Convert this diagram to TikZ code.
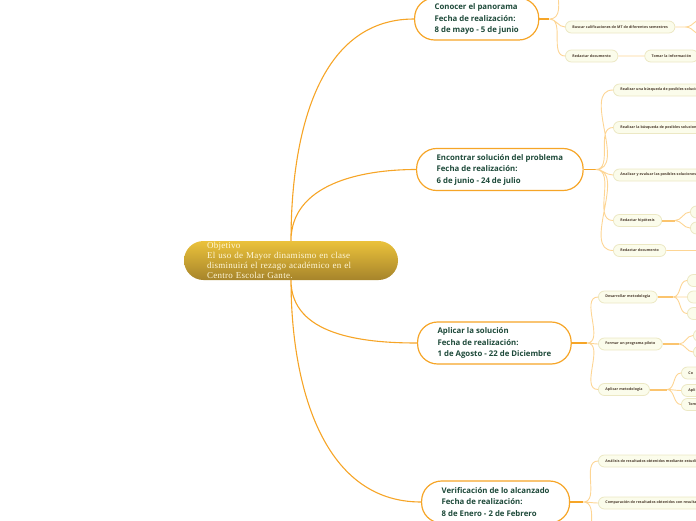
\documentclass[tikz,border=0pt]{standalone}
\usepackage{fontspec}
\setmainfont{Liberation Serif}
\newfontfamily\mapasans{Open Sans}
\usetikzlibrary{positioning}
\definecolor{ramanaranja}{HTML}{F6A527}
\definecolor{subnaranja}{HTML}{FDD594}
\definecolor{gruesonaranja}{HTML}{FBC46E}
\definecolor{tareafondo}{HTML}{FBFCEB}
\definecolor{tareaborde}{HTML}{ECE8C4}
\definecolor{tareatexto}{HTML}{4A3A2C}
\definecolor{fasetexto}{HTML}{1E4A3A}
\definecolor{oroarriba}{HTML}{EBC23B}
\definecolor{oroabajo}{HTML}{A6842B}
\definecolor{objtexto}{HTML}{FFF7D8}
\begin{document}
\begin{tikzpicture}[x=1pt,y=1pt,
    objetivo/.style={rounded corners=19.5pt,top color=oroarriba,bottom color=oroabajo,minimum width=214pt,minimum height=39pt,text width=168pt,inner ysep=0pt,align=left,text=objtexto,font=\addfontfeatures{LetterSpace=3}\fontsize{9}{9.8}\selectfont},
    fase/.style={draw=ramanaranja,line width=1.2pt,fill=white,rounded corners=20pt,minimum height=42pt,inner xsep=20pt,align=left,anchor=west,text=fasetexto,font=\mapasans\bfseries\fontsize{7.8}{11.5}\selectfont},
    tarea/.style={draw=tareaborde,line width=0.8pt,fill=tareafondo,rounded corners=6pt,minimum height=12pt,inner xsep=7pt,inner ysep=0pt,anchor=west,text=tareatexto,font=\mapasans\bfseries\addfontfeatures{LetterSpace=1.5}\fontsize{3.6}{4}\selectfont},
    hoja/.style={tarea,minimum width=45pt,text width=31pt,align=left},
    rama/.style={draw=ramanaranja,line width=1.1pt},
    sub/.style={draw=subnaranja,line width=0.9pt},
    grueso/.style={draw=gruesonaranja,line width=2pt},
]

    \clip (0,0) rectangle (696,-520);

    \node[objetivo] (obj) at (291,-260.5) {Objetivo\\El uso de Mayor dinamismo en clase\\disminuirá el rezago académico en el\\Centro Escolar Gante.};

    \node[fase] (conocer) at (414,-19) {Conocer el panorama\\Fecha de realización:\\8 de mayo - 5 de junio};
    \node[fase] (encontrar) at (416,-169.5) {Encontrar solución del problema\\Fecha de realización:\\6 de junio - 24 de julio};
    \node[fase] (aplicar) at (417,-343) {Aplicar la solución\\Fecha de realización:\\1 de Agosto - 22 de Diciembre};
    \node[fase] (verificar) at (421,-502) {Verificación de lo alcanzado\\Fecha de realización:\\8 de Enero - 2 de Febrero};

    \draw[rama]
        (obj.north) to[out=90,in=180] (conocer.west)
        (obj.north) to[out=90,in=180] (encontrar.west)
        (obj.south) to[out=-90,in=180] (aplicar.west)
        (obj.south) to[out=-90,in=180] (verificar.west)
    ;

    \node[tarea] (buscar) at (565,-27) {Buscar calificaciones de MT de diferentes semestres};
    \node[tarea] (redactar1) at (565,-56) {Redactar documento};
    \node[tarea,right=26pt of redactar1] (tomar) {Tomar la información};
    \coordinate[right=10pt of conocer] (jconocer);
    \coordinate (arriba) at (565,40);
    \coordinate[right=10pt of buscar] (jbuscar);
    \coordinate (buscara) at (705,-17);
    \coordinate (buscarb) at (705,-37);

    \draw[rama] (conocer) -- (jconocer);
    \draw[sub]
        (jconocer) to[out=0,in=180] (arriba)
        (jconocer) to[out=0,in=180] (buscar.west)
        (jconocer) to[out=0,in=180] (redactar1.west)
        (redactar1) -- (tomar)
        (buscar) -- (jbuscar)
        (jbuscar) to[out=0,in=180] (buscara)
        (jbuscar) to[out=0,in=180] (buscarb)
    ;

    \node[tarea] (busqueda1) at (613,-90) {Realizar una búsqueda de posibles soluciones};
    \node[tarea] (busqueda2) at (613,-127.5) {Realizar la búsqueda de posibles soluciones};
    \node[tarea] (analizar) at (613,-175) {Analizar y evaluar las posibles soluciones.};
    \node[tarea] (hipotesis) at (613,-220.5) {Redactar hipótesis};
    \node[tarea] (redactar2) at (613,-250.5) {Redactar documento};
    \node[hoja] (hipa) at (690,-212) {};
    \node[hoja] (hipb) at (690,-228) {};
    \coordinate[right=12pt of encontrar] (jencontrar);
    \coordinate (jhipotesis) at (675,-220.5);
    \coordinate (documento) at (705,-250.5);

    \draw[rama] (encontrar) -- (jencontrar);
    \draw[sub]
        (jencontrar) to[out=0,in=180] (busqueda1.west)
        (jencontrar) to[out=0,in=180] (busqueda2.west)
        (jencontrar) to[out=0,in=180] (analizar.west)
        (jencontrar) to[out=0,in=180] (hipotesis.west)
        (jencontrar) to[out=0,in=180] (redactar2.west)
        (redactar2) -- (documento)
        (jhipotesis) to[out=0,in=180] (hipa.west)
        (jhipotesis) to[out=0,in=180] (hipb.west)
    ;
    \draw[grueso] (hipotesis) -- (jhipotesis);

    \node[tarea] (metodologia) at (598,-297) {Desarrollar metodología};
    \node[tarea] (piloto) at (598,-344) {Formar un programa piloto};
    \node[tarea] (aplicarm) at (598,-389.5) {Aplicar metodología};
    \node[hoja] (meta) at (687,-280.5) {};
    \node[hoja] (metb) at (687,-297) {};
    \node[hoja] (metc) at (687,-313.5) {};
    \node[hoja] (pila) at (693,-335.5) {};
    \node[hoja] (pilb) at (693,-352) {};
    \node[hoja] (apla) at (681,-373) {Co};
    \node[hoja] (aplb) at (681,-390.5) {Apli};
    \node[hoja] (aplc) at (681,-404.5) {Tom};
    \coordinate[right=15pt of aplicar] (japlicar);
    \coordinate (jmetodologia) at (673,-297);
    \coordinate (jpiloto) at (679,-344);
    \coordinate (japlicarm) at (667,-389.5);

    \draw[rama] (aplicar) -- (japlicar);
    \draw[sub]
        (japlicar) to[out=0,in=180] (metodologia.west)
        (japlicar) to[out=0,in=180] (piloto.west)
        (japlicar) to[out=0,in=180] (aplicarm.west)
        (jmetodologia) to[out=0,in=180] (meta.west)
        (jmetodologia) -- (metb.west)
        (jmetodologia) to[out=0,in=180] (metc.west)
        (jpiloto) to[out=0,in=180] (pila.west)
        (jpiloto) to[out=0,in=180] (pilb.west)
        (japlicarm) to[out=0,in=180] (apla.west)
        (japlicarm) to[out=0,in=180] (aplb.west)
        (japlicarm) to[out=0,in=180] (aplc.west)
    ;
    \draw[grueso]
        (metodologia) -- (jmetodologia)
        (piloto) -- (jpiloto)
        (aplicarm) -- (japlicarm)
    ;

    \node[tarea] (analisis) at (598,-461) {Análisis de resultados obtenidos mediante estudios};
    \node[tarea] (comparacion) at (598,-503) {Comparación de resultados obtenidos con resultados};
    \coordinate[right=13pt of verificar] (jverificar);
    \coordinate (abajo) at (600,-545);

    \draw[rama] (verificar) -- (jverificar);
    \draw[sub]
        (jverificar) to[out=0,in=180] (analisis.west)
        (jverificar) to[out=0,in=180] (comparacion.west)
        (jverificar) to[out=0,in=180] (abajo)
    ;

\end{tikzpicture}
\end{document}
